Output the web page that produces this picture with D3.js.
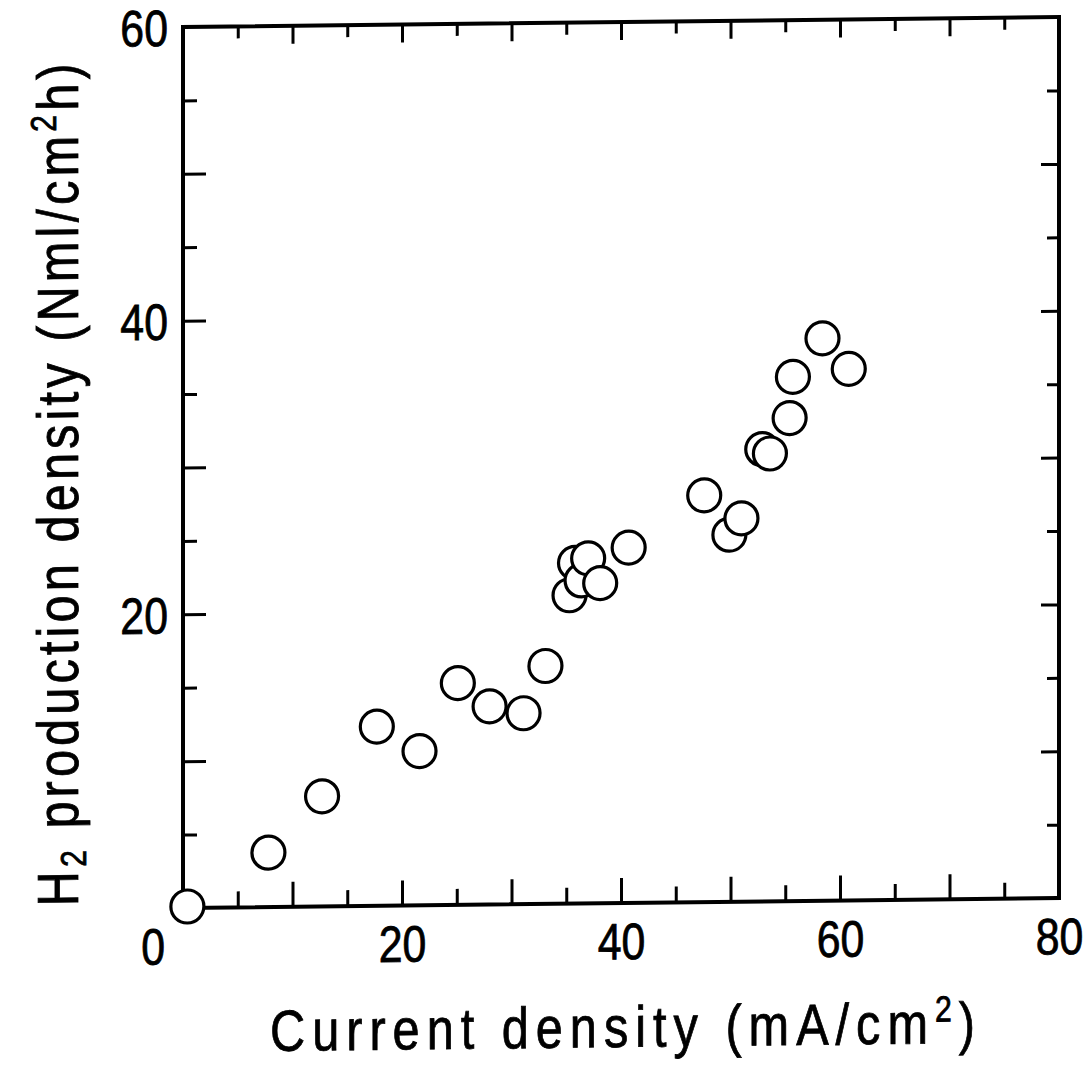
<!DOCTYPE html>
<html>
<head>
<meta charset="utf-8">
<script src="https://cdn.jsdelivr.net/npm/d3@7"></script>
<style>
  body { margin: 0; background: #fff; }
  text { font-family: "Liberation Sans", Arial, sans-serif; fill: #000; stroke: #000; stroke-width: 0.8px; }
</style>
</head>
<body>
<svg id="chart" width="1088" height="1065"></svg>
<script>
// values
var currentDensity = [0.4, 7.8, 12.7, 17.7, 21.6, 25.1, 28.0, 31.1, 33.1, 35.3, 35.8, 36.4,
    37.0, 38.1, 40.7, 47.6, 49.9, 51.0, 52.9, 53.6, 55.4, 55.7, 58.4, 60.8];
var h2Production = [0.1, 3.7, 7.5, 12.2, 10.5, 15.1, 13.5, 13.0, 16.2, 21.0, 23.2, 22.0,
    23.5, 21.8, 24.2, 27.7, 25.0, 26.1, 30.8, 30.5, 32.9, 35.7, 38.3, 36.2];
var xTickLabels = [0, 20, 40, 60, 80];
var yTickLabels = [20, 40, 60];
var xMajor = [10, 20, 30, 40, 50, 60, 70];
var xMinor = [5, 15, 25, 35, 45, 55, 65, 75];
var yMajor = [10, 20, 30, 40, 50];
var yMinor = [5, 15, 25, 35, 45, 55];

var pLeft = 183, pRight = 1059, pTop = 27, pBottom = 908;
var narrow = 0.84;   // the original lettering is condensed

var svg = d3.select("#chart");
// the scan is slightly tilted: horizontal lines drop to the left
var g = svg.append("g")
    .attr("transform", "translate(" + pLeft + ",0) skewY(-0.65) translate(" + (-pLeft) + ",0)");

var x = d3.scaleLinear().domain([0, 80]).range([pLeft, pRight]);
var y = d3.scaleLinear().domain([0, 60]).range([pBottom, pTop]);

function noDomain(sel){ sel.select(".domain").remove(); }
function tickStyle(sel){ sel.selectAll("line").attr("stroke", "#000").attr("stroke-width", 3); }

// frame
g.append("rect")
    .attr("x", pLeft).attr("y", pTop)
    .attr("width", pRight - pLeft).attr("height", pBottom - pTop)
    .attr("fill", "none").attr("stroke", "#000").attr("stroke-width", 4);

// inward ticks
g.append("g").attr("transform", "translate(0," + pBottom + ")")
    .call(d3.axisBottom(x).tickValues(xMajor).tickSize(-25).tickFormat(""))
    .call(noDomain).call(tickStyle);
g.append("g").attr("transform", "translate(0," + pBottom + ")")
    .call(d3.axisBottom(x).tickValues(xMinor).tickSize(-16).tickFormat(""))
    .call(noDomain).call(tickStyle);
g.append("g").attr("transform", "translate(0," + pTop + ")")
    .call(d3.axisTop(x).tickValues(xMajor).tickSize(-18).tickFormat(""))
    .call(noDomain).call(tickStyle);
g.append("g").attr("transform", "translate(0," + pTop + ")")
    .call(d3.axisTop(x).tickValues(xMinor).tickSize(-12).tickFormat(""))
    .call(noDomain).call(tickStyle);
g.append("g").attr("transform", "translate(" + pLeft + ",0)")
    .call(d3.axisLeft(y).tickValues(yMajor).tickSize(-23).tickFormat(""))
    .call(noDomain).call(tickStyle);
g.append("g").attr("transform", "translate(" + pLeft + ",0)")
    .call(d3.axisLeft(y).tickValues(yMinor).tickSize(-14).tickFormat(""))
    .call(noDomain).call(tickStyle);
g.append("g").attr("transform", "translate(" + pRight + ",0)")
    .call(d3.axisRight(y).tickValues(yMajor).tickSize(-18).tickFormat(""))
    .call(noDomain).call(tickStyle);
g.append("g").attr("transform", "translate(" + pRight + ",0)")
    .call(d3.axisRight(y).tickValues(yMinor).tickSize(-12).tickFormat(""))
    .call(noDomain).call(tickStyle);

// tick labels
var xLab = g.append("g").attr("transform", "translate(0," + pBottom + ")")
    .call(d3.axisBottom(x).tickValues(xTickLabels).tickSize(0).tickPadding(20))
    .call(noDomain);
xLab.selectAll("text").attr("font-size", 51).attr("font-family", null)
    .attr("x", function(d){ return d === 0 ? -36 : 0; })
    .attr("transform", "scale(" + narrow + ",1)");

var yLab = g.append("g").attr("transform", "translate(" + pLeft + ",0)")
    .call(d3.axisLeft(y).tickValues(yTickLabels).tickSize(0).tickPadding(15))
    .call(noDomain);
yLab.selectAll("text").attr("font-size", 51).attr("font-family", null)
    .attr("dy", "0.36em")
    .attr("x", -15 / narrow)
    .attr("transform", "scale(" + narrow + ",1)");

// data points
g.selectAll(".pt")
    .data(currentDensity)
    .enter()
    .append("circle")
    .attr("class", "pt")
    .attr("cx", function(d){ return x(d); })
    .attr("cy", function(d, i){ return y(h2Production[i]); })
    .attr("r", 16.5)
    .attr("fill", "#fff")
    .attr("stroke", "#000")
    .attr("stroke-width", 3.2);

// x title
var xt = g.append("text")
    .attr("transform", "translate(270,1052) scale(" + narrow + ",1)")
    .attr("font-size", 58)
    .attr("textLength", 705 / narrow)
    .attr("lengthAdjust", "spacing");
xt.append("tspan").text("Current density (mA/cm");
xt.append("tspan").attr("font-size", 36).attr("dy", -22).text("2");
xt.append("tspan").attr("dy", 22).text(")");

// y title
var yt = g.append("text")
    .attr("transform", "translate(78,905) rotate(-90) scale(" + narrow + ",1)")
    .attr("font-size", 58)
    .attr("textLength", 843 / narrow)
    .attr("lengthAdjust", "spacing");
yt.append("tspan").text("H");
yt.append("tspan").attr("font-size", 36).attr("dy", 8).text("2");
yt.append("tspan").attr("dy", -8).text(" production density (Nml/cm");
yt.append("tspan").attr("font-size", 36).attr("dy", -22).text("2");
yt.append("tspan").attr("dy", 22).text("h)");
</script>
</body>
</html>
